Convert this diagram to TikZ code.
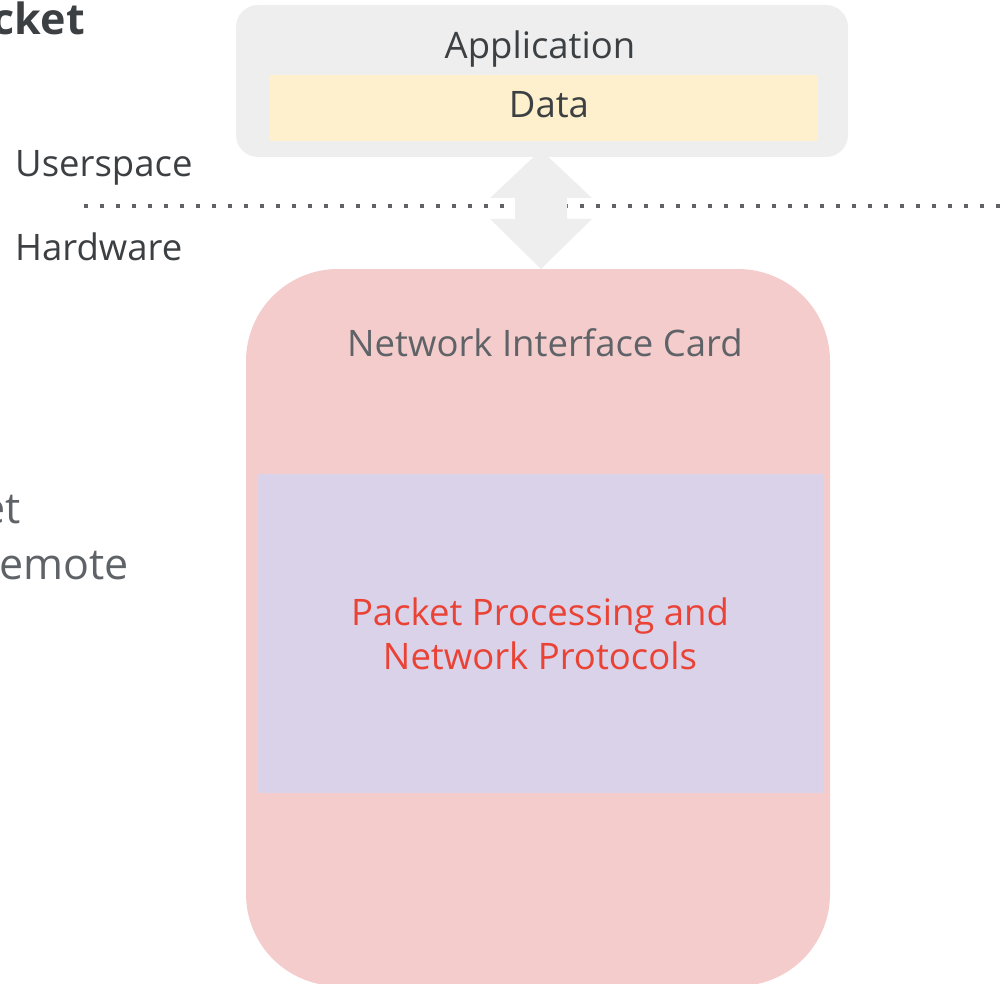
\documentclass[tikz,border=0pt]{standalone}
\usepackage{fontspec}
\setmainfont{Open Sans}
\definecolor{appgray}{HTML}{EEEEEE}
\definecolor{datayellow}{HTML}{FEF0CD}
\definecolor{nicred}{HTML}{F4CCCC}
\definecolor{procpurple}{HTML}{D9D2E9}
\definecolor{txtdark}{HTML}{3C4043}
\definecolor{txtgray}{HTML}{5F6368}
\definecolor{txtred}{HTML}{EA4335}
\definecolor{dotgray}{HTML}{5F6368}
\tikzset{
  lbl/.style={inner sep=0pt, anchor=base, font=\fontsize{36.5}{44}\selectfont, text=txtdark},
  bigtxt/.style={inner sep=0pt, font=\fontsize{43}{50}\selectfont, text=txtgray, anchor=base east},
}
\begin{document}
\begin{tikzpicture}[x=1pt,y=-1pt]
\useasboundingbox (0,0) rectangle (1003,984);
\clip (0,0) rectangle (1003,984);
% left partial texts
\node[inner sep=0pt, anchor=base east, font=\fontsize{43}{50}\selectfont\bfseries, text=txtdark] (t1) at (85,35) {cket};
\node[bigtxt] (t2) at (21,523) {et};
\node[bigtxt] (t3) at (129,579) {emote};
% userspace / hardware
\node[lbl, anchor=base west] (us) at (15,177) {Userspace};
\node[lbl, anchor=base west] (hw) at (15,260) {Hardware};
% dotted line
\coordinate (dl) at (84,206.5);
\coordinate (dr) at (1010,206.5);
\draw[dotgray, line width=4pt, dash pattern=on 4pt off 12pt] (dl) -- (dr);
% double arrow
\fill[appgray] (541,150) -- (592,198) -- (567,198) -- (567,219) -- (592,219) -- (541,269) -- (490,219) -- (515,219) -- (515,198) -- (490,198) -- cycle;
% application box
\fill[appgray, rounded corners=22pt] (236,5) rectangle (848,157);
\node[lbl] (app) at (540,59) {Application};
\fill[datayellow] (269,75) rectangle (818,141);
\node[lbl] (data) at (549,118) {Data};
% NIC
\fill[nicred, rounded corners=92pt] (246,269) rectangle (830,986);
\node[lbl, text=txtgray] (nic) at (545,356) {Network Interface Card};
\fill[procpurple] (258,474) rectangle (823,793);
\node[lbl, text=txtred] (proc1) at (540,625) {Packet Processing and};
\node[lbl, text=txtred] (proc2) at (540,669) {Network Protocols};
\end{tikzpicture}
\end{document}
